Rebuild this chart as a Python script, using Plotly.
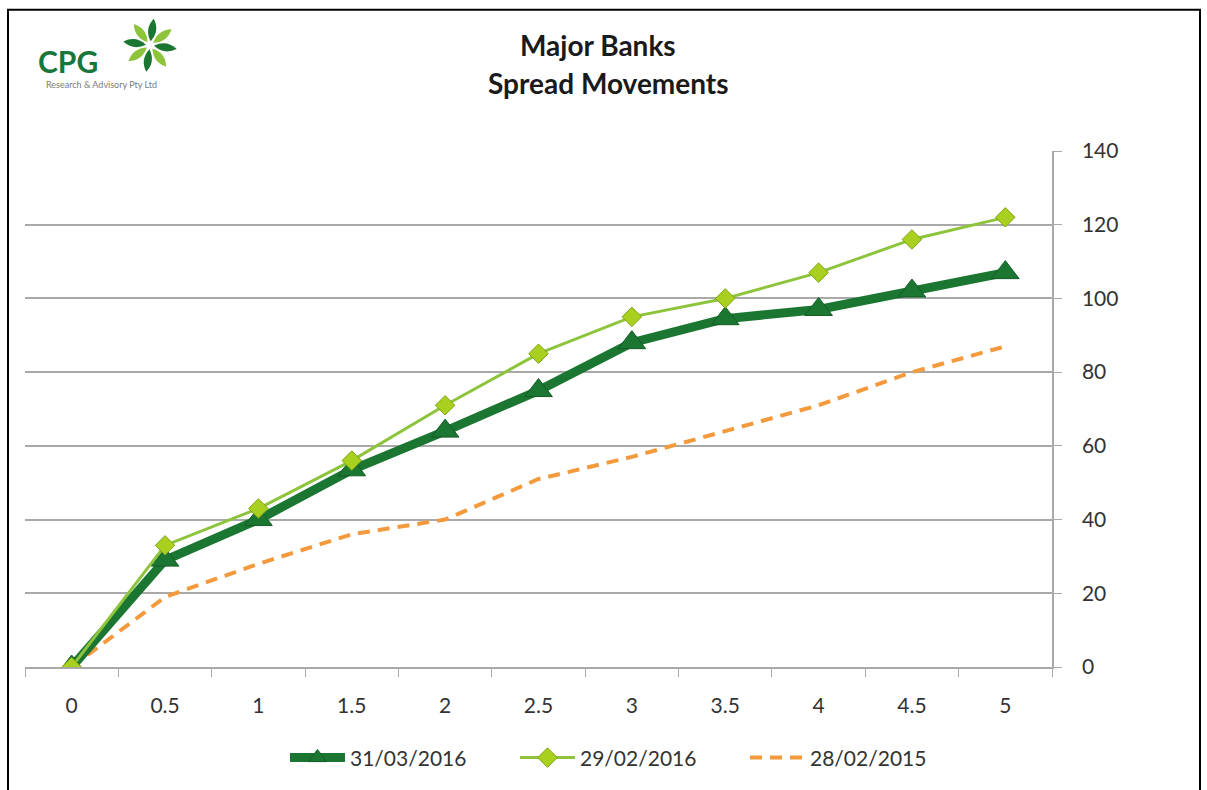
import math
import plotly.graph_objects as go

# Term (years) and spread values for each observation date
maturity = ["0", "0.5", "1", "1.5", "2", "2.5", "3", "3.5", "4", "4.5", "5"]
spread_31_03_2016 = [0, 29, 40, 53.5, 64, 75, 88, 94.5, 97, 102, 107]
spread_29_02_2016 = [0, 33, 43, 56, 71, 85, 95, 100, 107, 116, 122]
spread_28_02_2015 = [0, 19, 28, 36, 40, 51, 57, 64, 71, 80, 87]
y_ticks = [0, 20, 40, 60, 80, 100, 120, 140]

W, H = 1207, 790
PL, PR, PT, PB = 25, 1052, 151, 673  # plot-area edges in pixels

FONT = "Lato"
TEXT = "#333333"
GRID = "#a9a9a9"
DARK = "#1b7632"
LIGHT = "#8dc43c"
LIGHT_FILL = "#a9d01e"
ORANGE = "#f39a3d"


def px(x):
    return (x - PL) / (PR - PL)


def py(y):
    return (PB - y) / (PB - PT)


fig = go.Figure()

fig.add_trace(go.Scatter(
    x=maturity, y=spread_28_02_2015, name="28/02/2015", mode="lines",
    line=dict(color=ORANGE, width=4, dash="12px,8px"), legendrank=3,
))
fig.add_trace(go.Scatter(
    x=maturity, y=spread_31_03_2016, name="31/03/2016", mode="lines+markers",
    line=dict(color=DARK, width=9),
    marker=dict(symbol="triangle-up", size=24, color=DARK,
                line=dict(color="#145c26", width=1)),
    legendrank=1,
))
fig.add_trace(go.Scatter(
    x=maturity, y=spread_29_02_2016, name="29/02/2016", mode="lines+markers",
    line=dict(color=LIGHT, width=3),
    marker=dict(symbol="diamond", size=15, color=LIGHT_FILL,
                line=dict(color="#7ea417", width=1)),
    legendrank=2,
))

shapes = []
# outer frame
shapes.append(dict(type="rect", xref="paper", yref="paper",
                   x0=px(8), x1=px(1200), y0=py(800), y1=py(8),
                   line=dict(color="black", width=2), layer="below"))

# logo flower: eight pointed leaves around a centre
cx, cy = 150, 44
leaf_colors = [DARK, LIGHT, DARK, LIGHT, DARK, LIGHT, DARK, LIGHT]
for i, col in enumerate(leaf_colors):
    ang = math.radians(i * 45 + 8)
    dx, dy = math.sin(ang), -math.cos(ang)
    nx, ny = -dy, dx
    r0, r1, w = 4, 27, 5
    bx, by = cx + dx * r0, cy + dy * r0
    tx, ty = cx + dx * r1, cy + dy * r1
    mx, my = cx + dx * (r0 + r1) / 2, cy + dy * (r0 + r1) / 2
    c1 = (mx + nx * w * 1.6, my + ny * w * 1.6)
    c2 = (mx - nx * w * 1.6, my - ny * w * 1.6)
    path = (f"M {px(bx)},{py(by)} Q {px(c1[0])},{py(c1[1])} {px(tx)},{py(ty)} "
            f"Q {px(c2[0])},{py(c2[1])} {px(bx)},{py(by)} Z")
    shapes.append(dict(type="path", xref="paper", yref="paper", path=path,
                       fillcolor=col, line=dict(width=0)))

annotations = [
    dict(text="<b>Major Banks</b>", x=px(598), y=py(44), xref="paper", yref="paper",
         yanchor="middle", showarrow=False,
         font=dict(family=FONT, size=28, color="#1a1a1a")),
    dict(text="<b>Spread Movements</b>", x=px(608), y=py(82), xref="paper", yref="paper",
         yanchor="middle", showarrow=False,
         font=dict(family=FONT, size=28, color="#1a1a1a")),
    dict(text="<b>CPG</b>", x=px(36), y=py(60), xref="paper", yref="paper",
         xanchor="left", yanchor="middle", showarrow=False,
         font=dict(family=FONT, size=30, color="#17763a")),
    dict(text="Research & Advisory Pty Ltd", x=px(44), y=py(84), xref="paper", yref="paper",
         xanchor="left", yanchor="middle", showarrow=False,
         font=dict(family=FONT, size=9, color="#7a7a7a")),
]

fig.update_layout(
    width=W, height=H,
    margin=dict(l=PL, r=W - PR, t=PT, b=H - PB),
    paper_bgcolor="white", plot_bgcolor="white",
    font=dict(family=FONT, color=TEXT, size=20),
    showlegend=True,
    legend=dict(orientation="h", x=px(285), xanchor="left", y=py(765), yanchor="middle",
                font=dict(family=FONT, size=21, color=TEXT), traceorder="normal",
                itemwidth=55, entrywidth=160, bgcolor="rgba(0,0,0,0)"),
    shapes=shapes,
    annotations=annotations,
    xaxis=dict(type="category", categoryorder="array", categoryarray=maturity,
               range=[-0.5, 10.5], tickson="boundaries", ticks="outside", ticklen=8,
               tickcolor=GRID, showline=True, linecolor=GRID, linewidth=1.5,
               showgrid=False, zeroline=False, ticklabelstandoff=19,
               tickfont=dict(family=FONT, size=21, color=TEXT)),
    yaxis=dict(side="right", range=[0, 140], tickvals=y_ticks, ticks="outside", ticklen=8,
               tickcolor=GRID, showline=True, linecolor=GRID, linewidth=1.5,
               showgrid=True, gridcolor=GRID, gridwidth=1.5, zeroline=False,
               ticklabelstandoff=16,
               tickfont=dict(family=FONT, size=21, color=TEXT)),
)

fig.write_html("out.html")
